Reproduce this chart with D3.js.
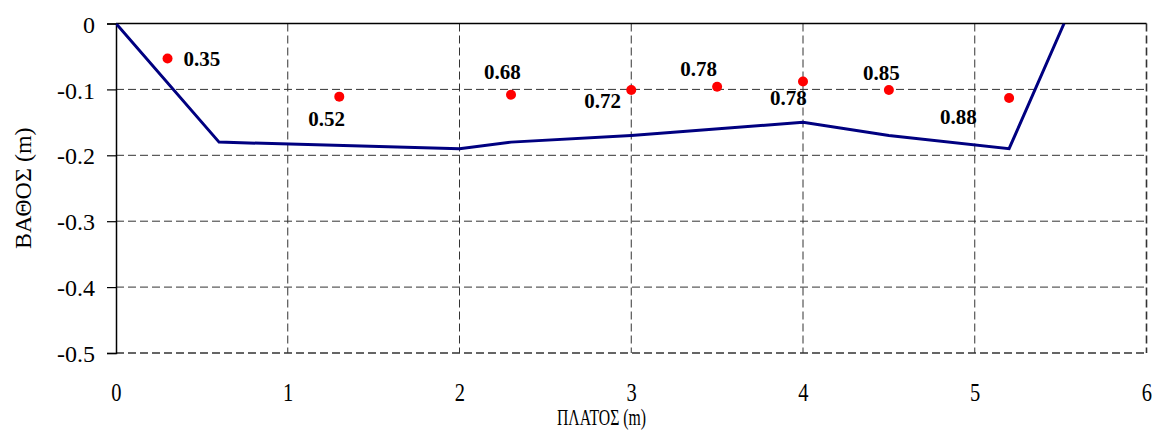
<!DOCTYPE html>
<html>
<head>
<meta charset="utf-8">
<script src="https://cdn.jsdelivr.net/npm/d3@7"></script>
<style>
  body { margin: 0; background: #fff; }
  svg { display: block; }
  svg text { font-family: "Liberation Serif", "Times New Roman", "DejaVu Serif", serif !important; }
</style>
</head>
<body>
<svg id="chart" width="1159" height="431"></svg>
<script>
// bed profile
const bedX = [0, 0.6, 2, 2.3, 3, 4, 4.5, 5.2, 5.52]
const bedY = [0, -0.18, -0.19, -0.18, -0.17, -0.15, -0.17, -0.19, 0]

// velocity measurement points
const ptX = [0.3, 1.3, 2.3, 3.0, 3.5, 4.0, 4.5, 5.2]
const ptY = [-0.053, -0.111, -0.108, -0.101, -0.096, -0.088, -0.101, -0.113]
const ptLabel = ['0.35', '0.52', '0.68', '0.72', '0.78', '0.78', '0.85', '0.88']

const xTicks = [0, 1, 2, 3, 4, 5, 6]
const yTicks = [0, -0.1, -0.2, -0.3, -0.4, -0.5]

// label placement relative to each point (px)
const labelOffsets = [[16, 8], [-31, 29], [-27, -16], [-47, 18], [-37, -11], [-33, 24], [-26, -10], [-69, 26]]

const width = 1159
const height = 431
const margin = { top: 23.5, right: 12.5, bottom: 78, left: 116 }
const aWidth = width - margin.left - margin.right
const aHeight = height - margin.top - margin.bottom

const svg = d3.select('#chart')

const g = svg.append('g')
  .attr('transform', 'translate(' + margin.left + ',' + margin.top + ')')

const xScale = d3.scaleLinear().domain([0, 6]).range([0, aWidth])
const yScale = d3.scaleLinear().domain([-0.5, 0]).range([aHeight, 0])

g.append('clipPath').attr('id', 'clip')
  .append('rect').attr('width', aWidth).attr('height', aHeight)

// grid
g.append('g')
  .selectAll('line')
  .data(xTicks.filter(d => d > 0))
  .join('line')
    .attr('x1', d => xScale(d)).attr('x2', d => xScale(d))
    .attr('y1', 0).attr('y2', aHeight)
    .attr('stroke', '#333')
    .attr('stroke-width', d => d === 6 ? 1.6 : 1)
    .attr('stroke-dasharray', '8,4')

g.append('g')
  .selectAll('line')
  .data(yTicks.filter(d => d < 0))
  .join('line')
    .attr('x1', 0).attr('x2', aWidth)
    .attr('y1', d => yScale(d)).attr('y2', d => yScale(d))
    .attr('stroke', '#333')
    .attr('stroke-width', d => d === -0.5 ? 1.4 : 1)
    .attr('stroke-dasharray', '8,4')

// x axis line at y = 0 (top), labels placed low
g.append('line')
  .attr('x1', 0).attr('x2', aWidth)
  .attr('y1', yScale(0)).attr('y2', yScale(0))
  .attr('stroke', '#000').attr('stroke-width', 1.5)

const xAxis = g.append('g')
  .attr('transform', 'translate(0,' + aHeight + ')')
  .call(d3.axisBottom(xScale).tickValues(xTicks).tickSize(0).tickPadding(0).tickFormat(d3.format('d')))
xAxis.select('.domain').remove()
xAxis.selectAll('text')
  .attr('y', 0)
  .attr('dy', 0)
  .attr('transform', 'translate(0,48) scale(0.82,1)')
  .attr('font-size', 25)
  .attr('fill', '#000')

const yAxis = g.append('g')
  .call(d3.axisLeft(yScale).tickValues(yTicks).tickSize(9).tickPadding(12).tickFormat(d => d === 0 ? '0' : d3.format('.1f')(d).replace('−', '-')))
yAxis.select('.domain').attr('stroke', '#000').attr('stroke-width', 1.5)
yAxis.selectAll('line').attr('stroke', '#000').attr('stroke-width', 1.2)
yAxis.selectAll('text')
  .attr('font-size', 24)
  .attr('dy', '0.36em')
  .attr('fill', '#000')

// bed line
const line = d3.line()
  .x((d, i) => xScale(bedX[i]))
  .y(d => yScale(d))

g.append('path')
  .datum(bedY)
  .attr('clip-path', 'url(#clip)')
  .attr('fill', 'none')
  .attr('stroke', '#000080')
  .attr('stroke-width', 3)
  .attr('stroke-linejoin', 'miter')
  .attr('d', line)

// points
g.append('g')
  .selectAll('circle')
  .data(ptY)
  .join('circle')
    .attr('cx', (d, i) => xScale(ptX[i]))
    .attr('cy', d => yScale(d))
    .attr('r', 5)
    .attr('fill', '#ff0000')

g.append('g')
  .selectAll('text')
  .data(ptLabel)
  .join('text')
    .attr('x', (d, i) => xScale(ptX[i]) + labelOffsets[i][0])
    .attr('y', (d, i) => yScale(ptY[i]) + labelOffsets[i][1])
    .attr('font-size', 21)
    .attr('font-weight', 'bold')
    .attr('fill', '#000')
    .text(d => d)

// axis titles
svg.append('text')
  .attr('x', 557)
  .attr('y', 425)
  .attr('font-size', 23)
  .attr('textLength', 89)
  .attr('lengthAdjust', 'spacingAndGlyphs')
  .attr('fill', '#000')
  .text('ΠΛΑΤΟΣ (m)')

svg.append('text')
  .attr('transform', 'translate(31,' + (margin.top + aHeight / 2) + ') rotate(-90)')
  .attr('text-anchor', 'middle')
  .attr('font-size', 24)
  .attr('fill', '#000')
  .text('ΒΑΘΟΣ (m)')
</script>
</body>
</html>
